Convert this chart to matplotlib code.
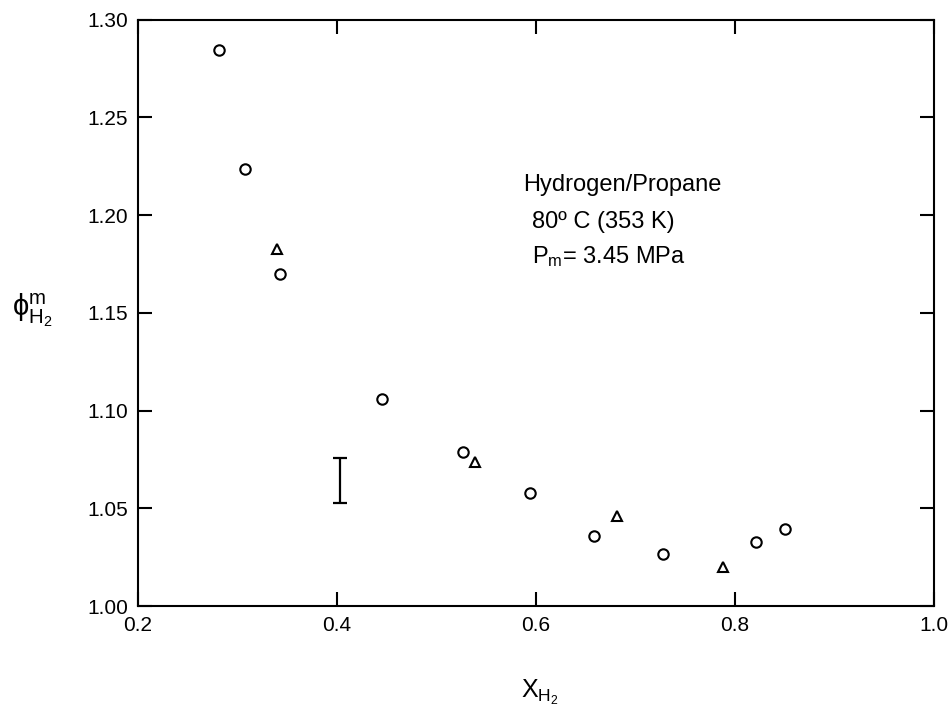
import matplotlib
matplotlib.use('Agg')
import matplotlib.pyplot as plt

# hydrogen mole fraction and fugacity coefficient
x_circ = [0.281, 0.3075, 0.343, 0.445, 0.527, 0.594, 0.658, 0.728, 0.821, 0.850]
y_circ = [1.2844, 1.2235, 1.1697, 1.1057, 1.0789, 1.0580, 1.0358, 1.0268, 1.0329, 1.0392]

x_tri = [0.340, 0.539, 0.681, 0.788]
y_tri = [1.1826, 1.0738, 1.0460, 1.0201]

# typical error bar
err_x = [0.403]
err_y = [1.0642]
err_half = [0.0117]

xticks = [0.2, 0.4, 0.6, 0.8, 1.0]
yticks = [1.00, 1.05, 1.10, 1.15, 1.20, 1.25, 1.30]

plt.rcParams['font.family'] = ['Liberation Sans', 'DejaVu Sans']
plt.rcParams['mathtext.fontset'] = 'custom'
plt.rcParams['mathtext.rm'] = 'Liberation Sans'
plt.rcParams['mathtext.it'] = 'Liberation Sans:italic'

fig = plt.figure(figsize=(9.53, 7.12), dpi=100)
ax = fig.add_axes([138 / 953, 1 - 606 / 712, 796 / 953, 586.5 / 712])

ax.plot(x_circ, y_circ, 'o', mfc='white', mec='black', mew=1.5, ms=7.5, ls='none')
ax.plot(x_tri, y_tri, '^', mfc='white', mec='black', mew=1.5, ms=7.5, ls='none')
ax.errorbar(err_x, err_y, yerr=err_half, fmt='none', ecolor='black',
            elinewidth=1.6, capsize=5, capthick=1.6)

ax.set_xlim(0.2, 1.0)
ax.set_ylim(1.0, 1.3)
ax.set_xticks(xticks)
ax.set_xticklabels(['%.1f' % t for t in xticks])
ax.set_yticks(yticks)
ax.set_yticklabels(['%.2f' % t for t in yticks])
ax.tick_params(direction='in', top=True, right=True, length=10, width=1.5,
               labelsize=15, colors='black', pad=7)
for s in ax.spines.values():
    s.set_linewidth(1.5)

ax.text(0.687, 1.2155, 'Hydrogen/Propane', fontsize=17, ha='center', va='center')
ax.text(0.596, 1.1965, '80º C (353 K)', fontsize=17, ha='left', va='center')
ax.text(0.596, 1.1785, r'P$_{\rm m}$= 3.45 MPa', fontsize=17, ha='left', va='center')

fig.text(32 / 953, 1 - 310 / 712, r'$\mathrm{\phi}^{\rm m}_{\rm H_2}$', fontsize=21,
         ha='center', va='center')
fig.text(540 / 953, 1 - 692 / 712, r'X$_{\rm H_2}$', fontsize=18,
         ha='center', va='center')

fig.savefig('out.png', dpi=100)
